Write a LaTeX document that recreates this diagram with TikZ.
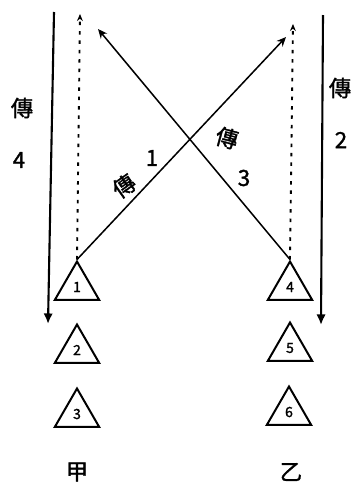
\documentclass[tikz,border=0pt]{standalone}
\usepackage{fontspec}
\newfontfamily\hanfont[FakeBold=1.5]{Noto Sans CJK TC}
\usetikzlibrary{shapes.geometric,arrows.meta}
\begin{document}
\begin{tikzpicture}[x=0.03cm,y=-0.03cm,
  player/.style={regular polygon,regular polygon sides=3,draw,line width=1.7pt,
    minimum size=1.53cm,inner sep=0pt,font=\hanfont\fontsize{12}{12}\selectfont},
  run/.style={line width=1.8pt,-{Latex[length=9pt,width=8pt]}},
  pass/.style={line width=1.3pt,-{Stealth[open,length=8pt,width=7pt]}},
  back/.style={line width=1.6pt,dash pattern=on 3pt off 5pt,-{Stealth[length=6pt,width=5pt]}},
  hand/.style={font=\hanfont\fontsize{19}{19}\selectfont}]
  \useasboundingbox (0,0) rectangle (358,494);
  % left group
  \node[player] (p1) at (77,287) {1};
  \node[player] (p2) at (77,350) {2};
  \node[player] (p3) at (77,414) {3};
  \node[hand] (jia) at (77,472) {甲};
  % right group
  \node[player] (p4) at (290,287) {4};
  \node[player] (p5) at (290,348) {5};
  \node[player] (p6) at (289,412) {6};
  \node[hand] (yi) at (291,472) {乙};
  % end points
  \coordinate (lt) at (54,12);
  \coordinate (lb) at (48,324);
  \coordinate (rt) at (323,15);
  \coordinate (rb) at (321,325);
  \coordinate (d1) at (80,14);
  \coordinate (d4) at (293,24);
  \coordinate (e1) at (286,37);
  \coordinate (e3) at (98,29);
  % runs down the sides
  \draw[run] (lt) -- (lb);
  \draw[run] (rt) -- (rb);
  % dotted runs back up
  \draw[back] (p1.north) -- (d1);
  \draw[back] (p4.north) -- (d4);
  % crossing passes
  \draw[pass] (p1.north) -- (e1);
  \draw[pass] (p4.north) -- (e3);
  % labels
  \node[hand] (l4a) at (22,108) {傳};
  \node[hand] (l4b) at (19,160) {4};
  \node[hand] (l2a) at (340,88) {傳};
  \node[hand] (l2b) at (341,140) {2};
  \node[hand,rotate=35] (l1a) at (124,186) {傳};
  \node[hand] (l1b) at (152,158) {1};
  \node[hand,rotate=-15] (l3a) at (227,138) {傳};
  \node[hand] (l3b) at (244,178) {3};
\end{tikzpicture}
\end{document}
